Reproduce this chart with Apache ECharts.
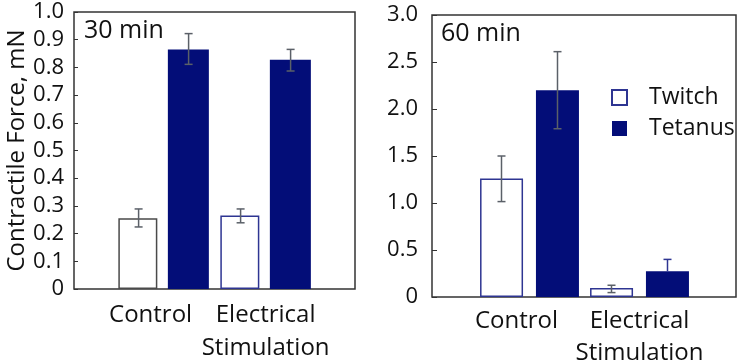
<!DOCTYPE html>
<html>
<head>
<meta charset="utf-8">
<script src="https://cdn.jsdelivr.net/npm/echarts@6/dist/echarts.min.js"></script>
<style>
  html, body { margin: 0; padding: 0; background: #fff; }
  #main { width: 737px; height: 360px; }
</style>
</head>
<body>
<div id="main"></div>
<script>
var categories = ['Control', 'Electrical\nStimulation'];

// 30 min panel
var twitch30 = [0.255, 0.265];
var twitch30Low = [0.224, 0.239];
var twitch30High = [0.289, 0.289];
var tetanus30 = [0.865, 0.828];
var tetanus30Low = [0.811, 0.787];
var tetanus30High = [0.922, 0.865];

// 60 min panel
var twitch60 = [1.26, 0.097];
var twitch60Low = [1.015, 0.047];
var twitch60High = [1.50, 0.125];
var tetanus60 = [2.20, 0.275];
var tetanus60Low = [1.79, 0.275];
var tetanus60High = [2.61, 0.40];

var yTicks30 = [0, 1.0, 0.1];
var yTicks60 = [0, 3.0, 0.5];

var navy = '#030d78';
var rim = '#2e3592';
var errGray = '#5b6068';
var font = 'Open Sans';

function errData(lo, hi) {
    var out = [];
    for (var i = 0; i < lo.length; i++) out.push([i, lo[i], hi[i]]);
    return out;
}
function errRender(offset, colors, lowCap) {
    return function (params, api) {
        var x = api.value(0);
        var a = api.coord([x, api.value(1)]);
        var b = api.coord([x, api.value(2)]);
        var px = a[0] + offset;
        var st = { stroke: colors[params.dataIndex], lineWidth: 1.5 };
        var kids = [
            { type: 'line', shape: { x1: px, y1: a[1], x2: px, y2: b[1] }, style: st },
            { type: 'line', shape: { x1: px - 4, y1: b[1], x2: px + 4, y2: b[1] }, style: st }
        ];
        if (lowCap[params.dataIndex]) {
            kids.push({ type: 'line', shape: { x1: px - 4, y1: a[1], x2: px + 4, y2: a[1] }, style: st });
        }
        return { type: 'group', children: kids };
    };
}
function yFmt(v) {
    return v === 0 ? '0' : v.toFixed(1);
}
function xFmt(v, i) {
    if (i === 0) return '{c|' + v + '}';
    return v;
}

function catAxis(gi, margin, lh) {
    return {
        gridIndex: gi, type: 'category', data: categories,
        axisLine: { show: false },
        axisTick: { show: false },
        axisLabel: {
            formatter: xFmt, interval: 0,
            color: '#111', fontFamily: font, fontSize: 24, lineHeight: lh, margin: margin,
            rich: { c: { fontFamily: font, fontSize: 24, color: '#111', padding: [0, 26, 0, 0] } }
        }
    };
}
function hidden(gi) {
    return { gridIndex: gi, type: 'value', show: false, min: 0, max: 1 };
}
var titleStyle = { fontFamily: font, fontSize: 25, fontWeight: 'normal', color: '#111' };

var chart = echarts.init(document.getElementById('main'));
var option = {
    backgroundColor: '#fff',
    animation: false,
    title: [
        { text: '30 min', left: 79, top: 13, textStyle: titleStyle },
        { text: '60 min', left: 436, top: 16, textStyle: titleStyle }
    ],
    legend: {
        data: ['Twitch', 'Tetanus'],
        orient: 'vertical',
        left: 606, top: 81,
        itemWidth: 15, itemHeight: 15, itemGap: 8,
        icon: 'rect',
        textStyle: { fontFamily: font, fontSize: 23, color: '#111', padding: [0, 0, 0, 17] }
    },
    grid: [
        // frames
        { left: 74, right: 382, top: 12, bottom: 71, outerBoundsMode: 'none', show: true, borderColor: '#333', borderWidth: 1.5, backgroundColor: 'transparent' },
        { left: 432, right: 1, top: 15, bottom: 63, outerBoundsMode: 'none', show: true, borderColor: '#333', borderWidth: 1.5, backgroundColor: 'transparent' },
        // plotting areas (one band per group)
        { left: 112.6, right: 420.4, top: 12, bottom: 71, outerBoundsMode: 'none' },
        { left: 474.5, right: 42.5, top: 15, bottom: 63, outerBoundsMode: 'none' }
    ],
    xAxis: [hidden(0), hidden(1), catAxis(2, 10, 33), catAxis(3, 8, 32)],
    yAxis: [
        hidden(0), hidden(1),
        {
            gridIndex: 2, type: 'value', min: yTicks30[0], max: yTicks30[1], interval: yTicks30[2],
            offset: 38.6,
            name: 'Contractile Force, mN', nameLocation: 'middle', nameGap: 45,
            nameTextStyle: { fontFamily: font, fontSize: 24, color: '#111' },
            axisLine: { show: false },
            axisTick: { show: true, inside: true, length: 4, lineStyle: { color: '#333' } },
            splitLine: { show: false },
            axisLabel: { formatter: yFmt, color: '#111', fontFamily: font, fontSize: 22, margin: 10 }
        },
        {
            gridIndex: 3, type: 'value', min: yTicks60[0], max: yTicks60[1], interval: yTicks60[2],
            offset: 42.5,
            axisLine: { show: false },
            axisTick: { show: true, inside: true, length: 5, lineStyle: { color: '#333' } },
            splitLine: { show: false },
            axisLabel: { formatter: yFmt, color: '#111', fontFamily: font, fontSize: 22, margin: 14 }
        }
    ],
    series: [
        {
            name: 'Twitch', type: 'bar', xAxisIndex: 2, yAxisIndex: 2,
            barWidth: 39, barGap: '27%',
            itemStyle: { color: '#fff', borderColor: rim, borderWidth: 1.5 },
            data: [
                { value: twitch30[0], itemStyle: { borderColor: '#4a4a4a' } },
                twitch30[1]
            ]
        },
        {
            name: 'Tetanus', type: 'bar', xAxisIndex: 2, yAxisIndex: 2,
            barWidth: 41, barGap: '27%',
            itemStyle: { color: navy },
            data: tetanus30
        },
        {
            name: 'Twitch', type: 'bar', xAxisIndex: 3, yAxisIndex: 3,
            barWidth: 43, barGap: '30%',
            itemStyle: { color: '#fff', borderColor: rim, borderWidth: 1.5 },
            data: twitch60
        },
        {
            name: 'Tetanus', type: 'bar', xAxisIndex: 3, yAxisIndex: 3,
            barWidth: 43, barGap: '30%',
            itemStyle: { color: navy },
            data: tetanus60
        },
        {
            type: 'custom', xAxisIndex: 2, yAxisIndex: 2, z: 5,
            renderItem: errRender(-25, [errGray, errGray], [true, true]),
            encode: { x: 0, y: [1, 2] },
            data: errData(twitch30Low, twitch30High)
        },
        {
            type: 'custom', xAxisIndex: 2, yAxisIndex: 2, z: 5,
            renderItem: errRender(25, [errGray, errGray], [true, true]),
            encode: { x: 0, y: [1, 2] },
            data: errData(tetanus30Low, tetanus30High)
        },
        {
            type: 'custom', xAxisIndex: 3, yAxisIndex: 3, z: 5,
            renderItem: errRender(-28, [errGray, errGray], [true, true]),
            encode: { x: 0, y: [1, 2] },
            data: errData(twitch60Low, twitch60High)
        },
        {
            type: 'custom', xAxisIndex: 3, yAxisIndex: 3, z: 5,
            renderItem: errRender(28, [errGray, rim], [true, false]),
            encode: { x: 0, y: [1, 2] },
            data: errData(tetanus60Low, tetanus60High)
        }
    ]
};
chart.setOption(option);
</script>
</body>
</html>
